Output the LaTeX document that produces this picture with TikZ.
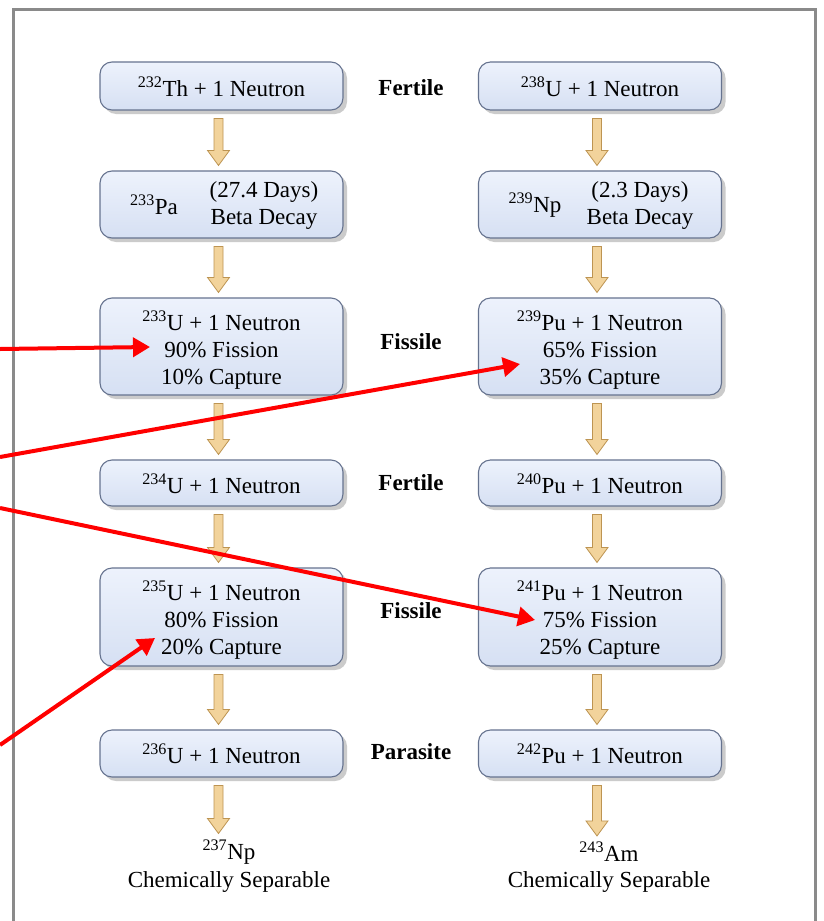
\documentclass[tikz,border=0pt]{standalone}
\usepackage{fontspec}
\setmainfont{Liberation Serif}
\usetikzlibrary{calc,shadows,arrows.meta}
\definecolor{boxtop}{HTML}{EDF2FC}
\definecolor{boxbot}{HTML}{D6E0F3}
\definecolor{boxborder}{HTML}{66738F}
\definecolor{arrfill}{HTML}{F2D39B}
\definecolor{arrdraw}{HTML}{BD9452}
\definecolor{framegray}{HTML}{8A8A8A}
\newcommand{\boxfont}{\fontsize{23}{27}\selectfont}
\newcommand{\blockarr}[2]{%
  \path[arrowst] let \p1=($(#1.south)+(-3,8)$), \p2=($(#2.north)+(-3,-5)$) in
   (\x1-4.5pt,\y1) -- (\x1+4.5pt,\y1) -- (\x1+4.5pt,\y2+15pt) -- (\x1+11pt,\y2+15pt)
   -- (\x1,\y2) -- (\x1-11pt,\y2+15pt) -- (\x1-4.5pt,\y2+15pt) -- cycle;}
\tikzset{
  boxst/.style={draw=boxborder, line width=1.1pt, rounded corners=12pt,
    top color=boxtop, bottom color=boxbot, minimum width=243pt, inner sep=0pt,
    drop shadow={shadow xshift=4pt, shadow yshift=-4pt, fill=black!40},
    font=\boxfont, align=center},
  plain/.style={font=\boxfont, align=center, inner sep=1pt},
  midlabel/.style={font=\boxfont\bfseries, inner sep=1pt},
  arrowst/.style={fill=arrfill, draw=arrdraw, line width=0.8pt, line join=miter},
  redarr/.style={draw=red, line width=4pt, -{Triangle[length=17pt,width=19pt]}},
}
\begin{document}
\begin{tikzpicture}[x=1pt,y=-1pt]
\useasboundingbox[fill=white] (0,0) rectangle (823,921);
% frame
\draw[framegray, line width=3pt] (13,921) -- (13,9) -- (815,9) -- (815,921);

% left column
\node[boxst, minimum height=48pt] (th232) at (221.5,86) {};
\node[plain] (th232t) at (221.5,87) {\textsuperscript{232}Th + 1 Neutron};
\node[boxst, minimum height=67pt] (pa233) at (221.5,204.5) {};
\node[plain] (pa233a) at (154,205) {\textsuperscript{233}Pa};
\node[plain] (pa233b) at (264,205) {(27.4 Days)\\Beta Decay};
\node[boxst, minimum height=97pt] (u233) at (221.5,346.5) {};
\node[plain] (u233t) at (221.5,350) {\textsuperscript{233}U + 1 Neutron\\90\% Fission\\10\% Capture};
\node[boxst, minimum height=46pt] (u234) at (221.5,483) {};
\node[plain] (u234t) at (221.5,484) {\textsuperscript{234}U + 1 Neutron};
\node[boxst, minimum height=98pt] (u235) at (221.5,617) {};
\node[plain] (u235t) at (221.5,620) {\textsuperscript{235}U + 1 Neutron\\80\% Fission\\20\% Capture};
\node[boxst, minimum height=47pt] (u236) at (221.5,753.5) {};
\node[plain] (u236t) at (221.5,754) {\textsuperscript{236}U + 1 Neutron};
\node[plain] (np237) at (229,852) {\textsuperscript{237}Np};
\node[plain] (np237s) at (229,882) {Chemically Separable};

% right column
\node[boxst, minimum height=48pt] (u238) at (600,86) {};
\node[plain] (u238t) at (600,87) {\textsuperscript{238}U + 1 Neutron};
\node[boxst, minimum height=67pt] (np239) at (600,204.5) {};
\node[plain] (np239a) at (535,205) {\textsuperscript{239}Np};
\node[plain] (np239b) at (640,205) {(2.3 Days)\\Beta Decay};
\node[boxst, minimum height=97pt] (pu239) at (600,346.5) {};
\node[plain] (pu239t) at (600,350) {\textsuperscript{239}Pu + 1 Neutron\\65\% Fission\\35\% Capture};
\node[boxst, minimum height=46pt] (pu240) at (600,483) {};
\node[plain] (pu240t) at (600,484) {\textsuperscript{240}Pu + 1 Neutron};
\node[boxst, minimum height=98pt] (pu241) at (600,617) {};
\node[plain] (pu241t) at (600,620) {\textsuperscript{241}Pu + 1 Neutron\\75\% Fission\\25\% Capture};
\node[boxst, minimum height=47pt] (pu242) at (600,753.5) {};
\node[plain] (pu242t) at (600,754) {\textsuperscript{242}Pu + 1 Neutron};
\node[plain] (am243) at (609,852) {\textsuperscript{243}Am};
\node[plain] (am243s) at (609,882) {Chemically Separable};

% middle labels
\node[midlabel] (fert1) at (411,88) {Fertile};
\node[midlabel] (fiss1) at (411,342) {Fissile};
\node[midlabel] (fert2) at (411,483) {Fertile};
\node[midlabel] (fiss2) at (411,611) {Fissile};
\node[midlabel] (para) at (411,752) {Parasite};

% block arrows
\blockarr{th232}{pa233}
\blockarr{pa233}{u233}
\blockarr{u233}{u234}
\blockarr{u234}{u235}
\blockarr{u235}{u236}
\blockarr{u236}{np237}
\blockarr{u238}{np239}
\blockarr{np239}{pu239}
\blockarr{pu239}{pu240}
\blockarr{pu240}{pu241}
\blockarr{pu241}{pu242}
\blockarr{pu242}{am243}

% red arrows
\coordinate (r1s) at (0,349);
\coordinate (r1e) at (150,347);
\coordinate (r2s) at (0,457);
\coordinate (r2e) at (520,364);
\coordinate (r3s) at (0,508);
\coordinate (r3e) at (535,620);
\coordinate (r4s) at (0,745);
\coordinate (r4e) at (155,638);
\draw[redarr] (r1s) -- (r1e);
\draw[redarr] (r2s) -- (r2e);
\draw[redarr] (r3s) -- (r3e);
\draw[redarr] (r4s) -- (r4e);
\end{tikzpicture}
\end{document}
